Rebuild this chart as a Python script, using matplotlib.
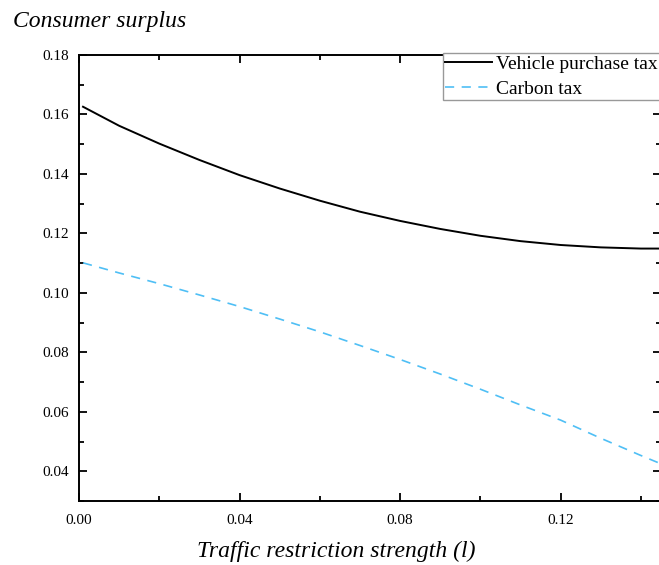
import matplotlib
matplotlib.use("Agg")
import matplotlib.pyplot as plt
from matplotlib.ticker import MultipleLocator

plt.rcParams['font.family'] = ['Liberation Serif', 'DejaVu Serif']

# Traffic restriction strength
strength = [0.001, 0.01, 0.02, 0.03, 0.04, 0.05, 0.06, 0.07, 0.08,
            0.09, 0.10, 0.11, 0.12, 0.13, 0.14, 0.145]
# Consumer surplus under each policy
vehicle_purchase_tax = [0.1626, 0.1562, 0.1502, 0.1447, 0.1396, 0.1351,
                        0.1310, 0.1273, 0.1242, 0.1215, 0.1192, 0.1174,
                        0.1161, 0.1153, 0.1149, 0.1149]
carbon_tax = [0.1101, 0.1067, 0.1031, 0.0993, 0.0954, 0.0912, 0.0869,
              0.0823, 0.0776, 0.0727, 0.0676, 0.0623, 0.0572, 0.0511,
              0.0453, 0.0425]

W, H = 659, 565
fig = plt.figure(figsize=(W / 100, H / 100), dpi=100)
ax = fig.add_axes([79 / W, 1 - 501 / H, (661 - 79) / W, (501 - 55) / H])

ax.plot(strength, vehicle_purchase_tax, color='black', lw=1.4,
        label='Vehicle purchase tax')
ax.plot(strength, carbon_tax, color='#4fbff5', lw=1.2,
        linestyle=(0, (5.5, 4.5)), label='Carbon tax')

ax.set_xlim(0, 0.145)
ax.set_ylim(0.03, 0.18)
ax.xaxis.set_minor_locator(MultipleLocator(0.02))
ax.yaxis.set_minor_locator(MultipleLocator(0.01))
ax.set_xticks([0.0, 0.04, 0.08, 0.12])
ax.set_xticklabels(['0.00', '0.04', '0.08', '0.12'])
ax.set_yticks([0.04, 0.06, 0.08, 0.10, 0.12, 0.14, 0.16, 0.18])
ax.set_yticklabels(['0.04', '0.06', '0.08', '0.10', '0.12', '0.14',
                    '0.16', '0.18'])

ax.tick_params(which='both', direction='in', top=True, right=True,
               width=1.3, labelsize=11)
ax.tick_params(which='major', length=6)
ax.tick_params(axis='x', which='major', pad=9)
ax.tick_params(axis='y', which='major', pad=7)
ax.tick_params(which='minor', length=3.5)
for s in ax.spines.values():
    s.set_linewidth(1.4)

fig.text(13 / W, 1 - 21 / H, 'Consumer surplus', fontsize=17,
         style='italic', ha='left', va='center')
fig.text(336.5 / W, 1 - 551 / H, 'Traffic restriction strength (l)',
         fontsize=17, style='italic', ha='center', va='center')

leg = fig.legend(loc='upper left', bbox_to_anchor=(442.7 / W, 1 - 52.7 / H),
                 bbox_transform=fig.transFigure, borderaxespad=0,
                 fontsize=14, frameon=True, fancybox=False, framealpha=1,
                 edgecolor='#999999', handlelength=2.4, handletextpad=0.2,
                 labelspacing=0.4, borderpad=0.12)
leg.get_frame().set_linewidth(1.0)

fig.savefig('out.png', dpi=100)
